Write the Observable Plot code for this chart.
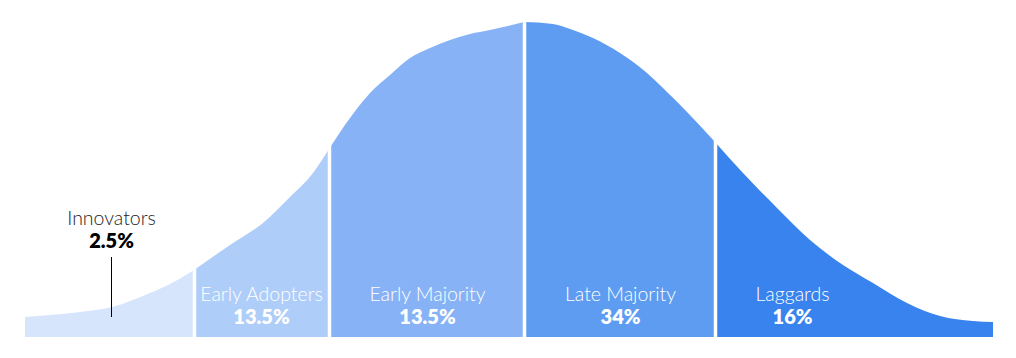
<!DOCTYPE html>
<html><head><meta charset="utf-8">
<script src="https://cdn.jsdelivr.net/npm/d3@7"></script>
<script src="https://cdn.jsdelivr.net/npm/@observablehq/plot@0.6"></script>
<style>
  html,body{margin:0;padding:0;background:#fff}
  svg{display:block}
</style>
</head><body><div id="chart"></div>
<script>
// Adoption curve (position along axis, curve height)
const curveX = [0, 25, 55, 87, 125, 147, 169, 205, 238, 265, 288, 304, 325, 345, 365, 385, 405, 425, 445, 465, 499, 528, 548, 568, 595, 622, 642, 662, 690, 718, 752, 785, 818, 848, 882, 915, 948, 968];
const curveH = [20, 22, 25, 30, 44, 54, 67, 92, 114, 140, 164, 188, 219, 244, 262, 279, 289, 297, 303, 307, 315, 313, 307, 299, 284, 264, 245, 225, 195, 164, 129, 97, 72, 54, 34, 21, 16, 15];

const segmentNames  = ["Innovators", "Early Adopters", "Early Majority", "Late Majority", "Laggards"];
const segmentShares = ["2.5%", "13.5%", "13.5%", "34%", "16%"];
const segmentBounds = [0, 169, 304, 499, 690, 968];
const segmentColors = ["#d6e5fb", "#afcdf9", "#87b3f6", "#5e9cf2", "#3883ee"];
const labelX = [86, 236, 402, 595, 767];

// build the rows for each segment (boundary points shared)
const rows = [];
segmentNames.forEach((name, i) => {
  curveX.forEach((x, j) => {
    if (x >= segmentBounds[i] && x <= segmentBounds[i + 1]) rows.push({x, h: curveH[j], seg: name});
  });
});
const labels = segmentNames.map((name, i) => ({name, share: segmentShares[i], x: labelX[i], inner: i > 0}));
const inner = labels.filter(d => d.inner);
const outer = labels.filter(d => !d.inner);

const font = "Lato, 'Noto Sans', sans-serif";
const chart = Plot.plot({
  width: 1016,
  height: 358,
  marginLeft: 25,
  marginRight: 23,
  marginTop: 22,
  marginBottom: 21,
  x: {domain: [0, 968], axis: null},
  y: {domain: [0, 315], axis: null},
  color: {domain: segmentNames, range: segmentColors},
  style: {fontFamily: font, background: "#fff"},
  marks: [
    Plot.area(rows, {x1: "x", y1: 0, y2: "h", z: "seg", fill: "seg", curve: "monotone-x"}),
    Plot.ruleX(segmentBounds.slice(1, -1), {stroke: "#fff", strokeWidth: 3.5}),
    Plot.text(inner, {x: "x", y: 37, text: "name", fill: "#fff", fontSize: 19.5, fontWeight: 300, lineAnchor: "bottom", fontFamily: font}),
    Plot.text(inner, {x: "x", y: 14, text: "share", fill: "#fff", fontSize: 20, fontWeight: 800, lineAnchor: "bottom", fontFamily: font}),
    Plot.text(outer, {x: "x", y: 112.5, text: "name", fill: "#222", fontSize: 19.5, fontWeight: 300, lineAnchor: "bottom", fontFamily: font}),
    Plot.text(outer, {x: "x", y: 89.5, text: "share", fill: "#000", fontSize: 20, fontWeight: 800, lineAnchor: "bottom", fontFamily: font}),
    Plot.ruleX(outer, {x: "x", y1: 20, y2: 80, stroke: "#000", strokeWidth: 1})
  ]
});
document.getElementById("chart").appendChild(chart);
</script>
</body></html>
